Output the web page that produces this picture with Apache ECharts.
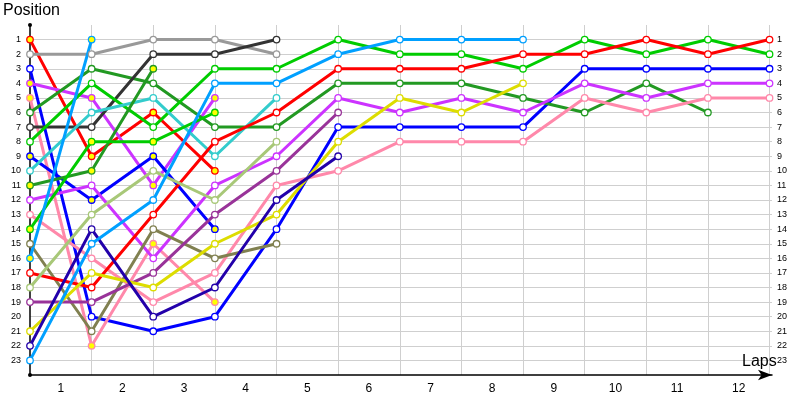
<!DOCTYPE html>
<html>
<head>
<meta charset="utf-8">
<title>Lap chart</title>
<script src="https://cdn.jsdelivr.net/npm/echarts@6/dist/echarts.min.js"></script>
<style>
  html, body { margin: 0; padding: 0; background: #fff; }
  #chart { width: 800px; height: 400px; }
</style>
</head>
<body>
<div id="chart"></div>
<script>
// positions per lap, index 0 = grid (start)
const red1 = [1, 9, 6, 10];
const gray2 = [2, 2, 1, 1, 2];
const blue3 = [3, 20, 21, 20, 14, 7, 7, 7, 7, 3, 3, 3, 3];
const violet4 = [4, 5, 11, 5];
const pink5 = [5, 22, 15, 19];
const green6 = [6, 3, 4, 7, 7, 4, 4, 4, 5, 6, 4, 6];
const black7 = [7, 7, 2, 2, 1];
const lime8 = [8, 4, 7, 3, 3, 1, 2, 2, 3, 1, 2, 1, 2];
const blue9 = [9, 12, 9, 14];
const teal10 = [10, 6, 5, 9, 5];
const green11 = [11, 10, 3];
const violet12 = [12, 11, 16, 11, 9, 5, 6, 5, 6, 4, 5, 4, 4];
const pink13 = [13, 16, 19, 17, 11, 10, 8, 8, 8, 5, 6, 5, 5];
const lime14 = [14, 8, 8, 6];
const olive15 = [15, 21, 14, 16, 15];
const sky16 = [16, 1];
const red17 = [17, 18, 13, 8, 6, 3, 3, 3, 2, 2, 1, 2, 1];
const khaki18 = [18, 13, 10, 12, 8];
const purple19 = [19, 19, 17, 13, 10, 6];
const yellow21 = [21, 17, 18, 15, 13, 8, 5, 6, 4];
const navy22 = [22, 14, 20, 18, 12, 9];
const sky23 = [23, 15, 12, 4, 4, 2, 1, 1, 1];

// [data, line colour, yellow marker?]
const drivers = [
  [red1, '#ff0000', true],
  [gray2, '#999999', false],
  [blue3, '#0000ff', false],
  [violet4, '#cc33ff', true],
  [pink5, '#ff88aa', true],
  [green6, '#229922', false],
  [black7, '#333333', false],
  [lime8, '#00cc00', false],
  [blue9, '#0000ff', true],
  [teal10, '#33cccc', false],
  [green11, '#229922', true],
  [violet12, '#cc33ff', false],
  [pink13, '#ff88aa', false],
  [lime14, '#00cc00', true],
  [olive15, '#808050', false],
  [sky16, '#00a0ff', true],
  [red17, '#ff0000', false],
  [khaki18, '#a8c878', false],
  [purple19, '#993399', false],
  [yellow21, '#dddd00', false],
  [navy22, '#2200aa', false],
  [sky23, '#00a0ff', false]
];

const font = 'Liberation Sans, Arial, sans-serif';
const posLabel = function (v) {
  return v >= 1 && v <= 23 ? String(v) : '';
};

const series = drivers.map(function (d) {
  return {
    type: 'line',
    xAxisIndex: 0,
    yAxisIndex: 0,
    data: d[0].map(function (p, lap) { return [lap, p]; }),
    symbol: 'circle',
    symbolSize: 6.5,
    clip: false,
    lineStyle: { color: d[1], width: 3 },
    itemStyle: { color: d[2] ? '#ffff00' : '#ffffff', borderColor: d[1], borderWidth: 1.3 },
    emphasis: { disabled: true }
  };
});

const option = {
  animation: false,
  title: [
    { text: 'Position', left: 3, top: 3, padding: 0,
      textStyle: { fontSize: 16, fontWeight: 'normal', color: '#000', fontFamily: font } },
    { text: 'Laps', left: 742, top: 354, padding: 0,
      textStyle: { fontSize: 16, fontWeight: 'normal', color: '#000', fontFamily: font } }
  ],
  grid: { left: 30, right: 28, top: 25, bottom: 25 },
  xAxis: [
    {
      type: 'value', min: 0, max: 12.04, interval: 1, position: 'bottom',
      axisLine: { show: true, onZero: false, lineStyle: { color: '#000', width: 1.5 }, symbol: ['none', 'arrow'], symbolSize: [8, 14] },
      axisTick: { show: false },
      axisLabel: { show: false },
      splitLine: { show: true, showMinLine: false, showMaxLine: false, lineStyle: { color: '#cfcfcf', width: 1 } }
    },
    {
      type: 'value', min: 0, max: 12.04, interval: 0.5, position: 'bottom',
      axisLine: { show: false, onZero: false },
      axisTick: { show: false },
      splitLine: { show: false },
      axisLabel: {
        margin: 8, fontSize: 12, color: '#000', fontFamily: font,
        formatter: function (v) { return Math.abs(v % 1 - 0.5) < 1e-6 ? String(Math.ceil(v)) : ''; }
      }
    }
  ],
  yAxis: [
    {
      type: 'value', inverse: true, min: 0, max: 24, interval: 1,
      axisLine: { show: true, onZero: false, lineStyle: { color: '#000', width: 1.5 }, symbol: ['circle', 'circle'], symbolSize: [4, 4] },
      axisTick: { show: false },
      axisLabel: { margin: 9, fontSize: 9, color: '#000', fontFamily: font, formatter: posLabel },
      splitLine: { show: true, showMinLine: false, showMaxLine: false, lineStyle: { color: '#cfcfcf', width: 1 } }
    },
    {
      type: 'value', inverse: true, min: 0, max: 24, interval: 1, position: 'right',
      axisLine: { show: false, onZero: false },
      axisTick: { show: false },
      splitLine: { show: false },
      axisLabel: { margin: 5, fontSize: 9, color: '#000', fontFamily: font, formatter: posLabel }
    }
  ],
  series: series
};

echarts.init(document.getElementById('chart'), null, { renderer: 'canvas' }).setOption(option);
</script>
</body>
</html>
